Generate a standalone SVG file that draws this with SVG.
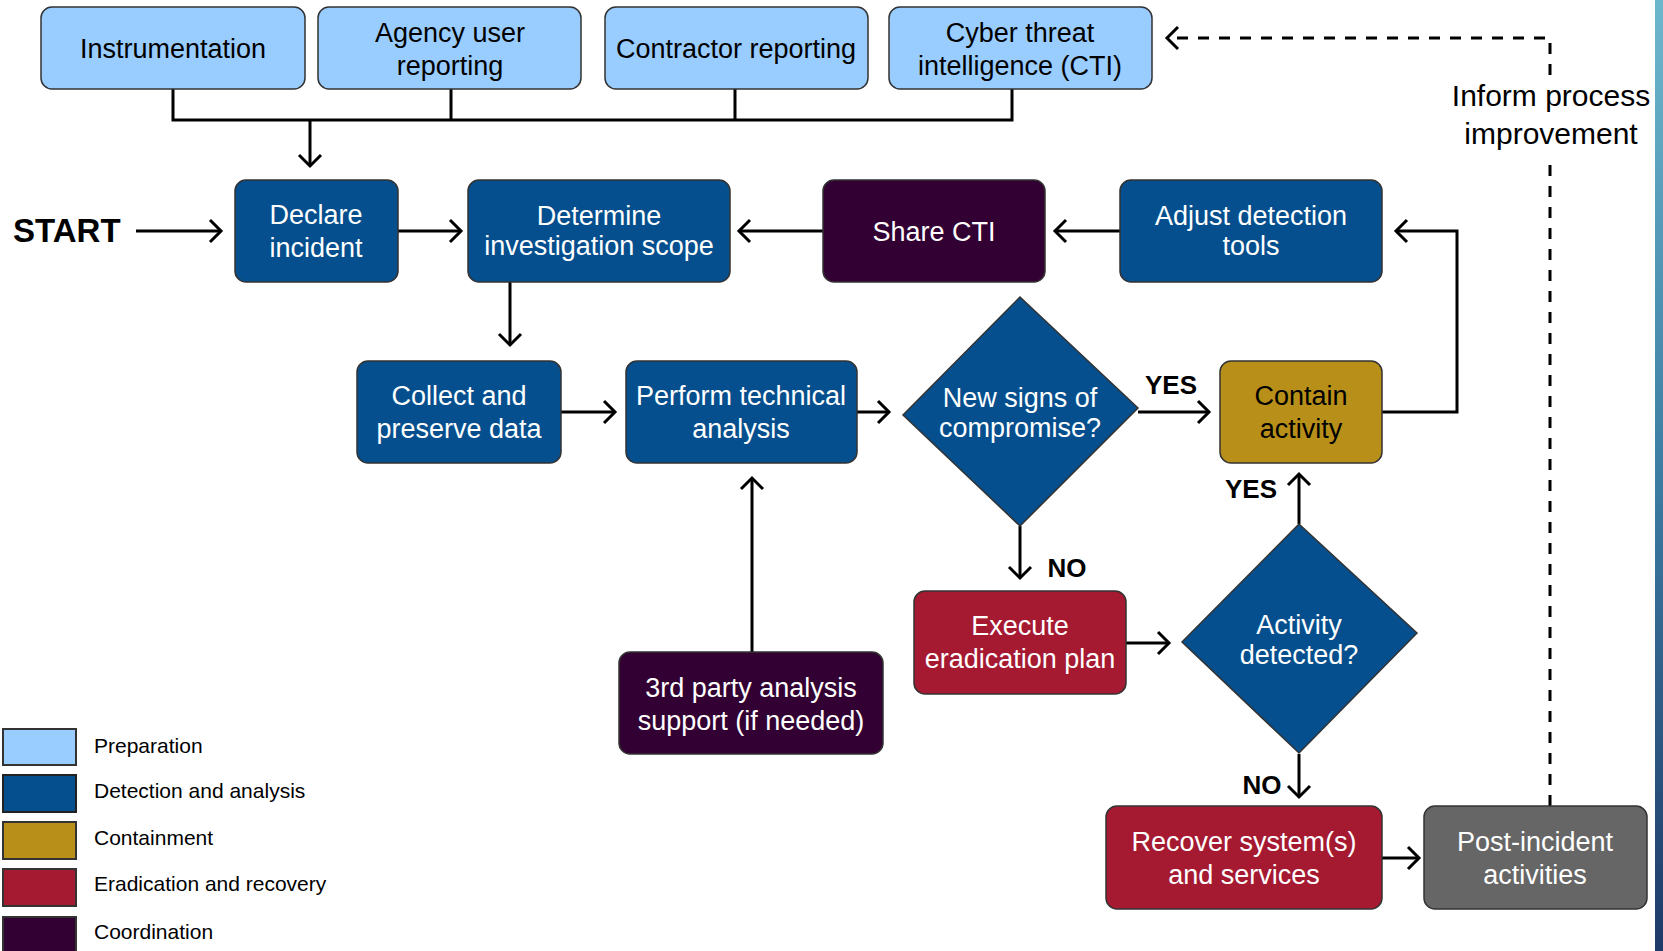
<svg xmlns="http://www.w3.org/2000/svg" width="1663" height="951" viewBox="0 0 1663 951">
<style>
  text { font-family: "Liberation Sans", Arial, sans-serif; }
  .node { stroke: #333333; stroke-width: 1.5; }
  .prep { fill: #99CCFF; }
  .det { fill: #054F8E; }
  .cont { fill: #B88F19; }
  .erad { fill: #A51931; }
  .coord { fill: #330033; }
  .post { fill: #666666; }
  .t { font-size: 27px; text-anchor: middle; }
  .w { fill: #FFFFFF; }
  .k { fill: #000000; }
  .lbl { font-size: 26px; font-weight: bold; text-anchor: middle; fill: #000; }
  .leg { font-size: 21px; fill: #000; }
  .conn { fill: none; stroke: #000; stroke-width: 3; }
  .arr { marker-end: url(#ah); }
  .dash { stroke-dasharray: 11 10; }
</style>
<defs>
  <marker id="ah" markerUnits="userSpaceOnUse" viewBox="-16 -16 20 32" refX="0" refY="0" markerWidth="20" markerHeight="32" orient="auto">
    <path d="M-11,-11 L0,0 L-11,11" fill="none" stroke="#000" stroke-width="3"/>
  </marker>
  <linearGradient id="strip" x1="0" y1="0" x2="0" y2="1">
    <stop offset="0" stop-color="#6DB7CD"/>
    <stop offset="0.5" stop-color="#3C7CA3"/>
    <stop offset="1" stop-color="#1E3A68"/>
  </linearGradient>
</defs>
<rect x="0" y="0" width="1663" height="951" fill="#FFFFFF"/>
<rect x="1655" y="0" width="8" height="951" fill="url(#strip)"/>

<g id="connectors">
  <polyline class="conn" points="173,89 173,120 1012,120 1012,89"/>
  <line class="conn" x1="451" y1="89" x2="451" y2="120"/>
  <line class="conn" x1="735" y1="89" x2="735" y2="120"/>
  <line class="conn arr" x1="310" y1="120" x2="310" y2="166"/>
  <line class="conn arr" x1="136" y1="231" x2="221" y2="231"/>
  <line class="conn arr" x1="398" y1="231" x2="461" y2="231"/>
  <line class="conn arr" x1="823" y1="231" x2="739" y2="231"/>
  <line class="conn arr" x1="1120" y1="231" x2="1055" y2="231"/>
  <polyline class="conn arr" points="1382,412 1457,412 1457,231 1396,231"/>
  <line class="conn arr" x1="510" y1="282" x2="510" y2="345"/>
  <line class="conn arr" x1="561" y1="412" x2="615" y2="412"/>
  <line class="conn arr" x1="857" y1="412" x2="889" y2="412"/>
  <line class="conn arr" x1="1138" y1="412" x2="1209" y2="412"/>
  <line class="conn arr" x1="1020" y1="526" x2="1020" y2="578"/>
  <line class="conn arr" x1="1126" y1="643" x2="1169" y2="643"/>
  <line class="conn arr" x1="1299" y1="524" x2="1299" y2="474"/>
  <line class="conn arr" x1="1299" y1="754" x2="1299" y2="797"/>
  <line class="conn arr" x1="1382" y1="858" x2="1419" y2="858"/>
  <line class="conn arr" x1="752" y1="652" x2="752" y2="478"/>
  <line class="conn dash" x1="1550" y1="806" x2="1550" y2="158"/>
  <polyline class="conn dash arr" points="1550,75 1550,38 1167,38"/>
  <text class="lbl" x="1171" y="394">YES</text>
  <text class="lbl" x="1251" y="498">YES</text>
  <text class="lbl" x="1067" y="577">NO</text>
  <text class="lbl" x="1262" y="794">NO</text>
  <text x="1551" y="106" style="font-size:30px;text-anchor:middle">Inform process</text>
  <text x="1551" y="144" style="font-size:30px;text-anchor:middle">improvement</text>
</g>

<g id="start">
  <text x="13" y="242" style="font-size:33px;font-weight:bold">START</text>
</g>

<g id="instrumentation">
  <rect class="node prep" x="41" y="7" width="264" height="82" rx="11"/>
  <text class="t k" x="173" y="58">Instrumentation</text>
</g>
<g id="agency">
  <rect class="node prep" x="318" y="7" width="263" height="82" rx="11"/>
  <text class="t k" x="450" y="42">Agency user</text>
  <text class="t k" x="450" y="75">reporting</text>
</g>
<g id="contractor">
  <rect class="node prep" x="605" y="7" width="263" height="82" rx="11"/>
  <text class="t k" x="736" y="58">Contractor reporting</text>
</g>
<g id="cti">
  <rect class="node prep" x="889" y="7" width="263" height="82" rx="11"/>
  <text class="t k" x="1020" y="42">Cyber threat</text>
  <text class="t k" x="1020" y="75">intelligence (CTI)</text>
</g>

<g id="declare">
  <rect class="node det" x="235" y="180" width="163" height="102" rx="11"/>
  <text class="t w" x="316" y="224">Declare</text>
  <text class="t w" x="316" y="257">incident</text>
</g>
<g id="determine">
  <rect class="node det" x="468" y="180" width="262" height="102" rx="11"/>
  <text class="t w" x="599" y="225">Determine</text>
  <text class="t w" x="599" y="255">investigation scope</text>
</g>
<g id="share-cti">
  <rect class="node coord" x="823" y="180" width="222" height="102" rx="11"/>
  <text class="t w" x="934" y="241">Share CTI</text>
</g>
<g id="adjust">
  <rect class="node det" x="1120" y="180" width="262" height="102" rx="11"/>
  <text class="t w" x="1251" y="225">Adjust detection</text>
  <text class="t w" x="1251" y="255">tools</text>
</g>

<g id="collect">
  <rect class="node det" x="357" y="361" width="204" height="102" rx="11"/>
  <text class="t w" x="459" y="405">Collect and</text>
  <text class="t w" x="459" y="438">preserve data</text>
</g>
<g id="perform">
  <rect class="node det" x="626" y="361" width="231" height="102" rx="11"/>
  <text class="t w" x="741" y="405">Perform technical</text>
  <text class="t w" x="741" y="438">analysis</text>
</g>
<g id="new-signs">
  <polygon class="node det" points="1020,297 1138,408 1020,526 903,415"/>
  <text class="t w" x="1020" y="407">New signs of</text>
  <text class="t w" x="1020" y="437">compromise?</text>
</g>
<g id="contain">
  <rect class="node cont" x="1220" y="361" width="162" height="102" rx="11"/>
  <text class="t k" x="1301" y="405">Contain</text>
  <text class="t k" x="1301" y="438">activity</text>
</g>

<g id="execute">
  <rect class="node erad" x="914" y="591" width="212" height="103" rx="11"/>
  <text class="t w" x="1020" y="635">Execute</text>
  <text class="t w" x="1020" y="668">eradication plan</text>
</g>
<g id="activity">
  <polygon class="node det" points="1299,524 1417,633 1299,753 1182,642"/>
  <text class="t w" x="1299" y="634">Activity</text>
  <text class="t w" x="1299" y="664">detected?</text>
</g>
<g id="third-party">
  <rect class="node coord" x="619" y="652" width="264" height="102" rx="11"/>
  <text class="t w" x="751" y="697">3rd party analysis</text>
  <text class="t w" x="751" y="730">support (if needed)</text>
</g>
<g id="recover">
  <rect class="node erad" x="1106" y="806" width="276" height="103" rx="11"/>
  <text class="t w" x="1244" y="851">Recover system(s)</text>
  <text class="t w" x="1244" y="884">and services</text>
</g>
<g id="post-incident">
  <rect class="node post" x="1424" y="806" width="223" height="103" rx="11"/>
  <text class="t w" x="1535" y="851">Post-incident</text>
  <text class="t w" x="1535" y="884">activities</text>
</g>

<g id="legend">
  <rect x="3" y="729" width="73" height="36" fill="#99CCFF" stroke="#333" stroke-width="2"/>
  <rect x="3" y="775" width="73" height="37" fill="#054F8E" stroke="#222" stroke-width="2"/>
  <rect x="3" y="822" width="73" height="37" fill="#B88F19" stroke="#333" stroke-width="2"/>
  <rect x="3" y="869" width="73" height="37" fill="#A51931" stroke="#333" stroke-width="2"/>
  <rect x="3" y="917" width="73" height="37" fill="#330033" stroke="#333" stroke-width="2"/>
  <text class="leg" x="94" y="753">Preparation</text>
  <text class="leg" x="94" y="798">Detection and analysis</text>
  <text class="leg" x="94" y="845">Containment</text>
  <text class="leg" x="94" y="891">Eradication and recovery</text>
  <text class="leg" x="94" y="939">Coordination</text>
</g>
</svg>
